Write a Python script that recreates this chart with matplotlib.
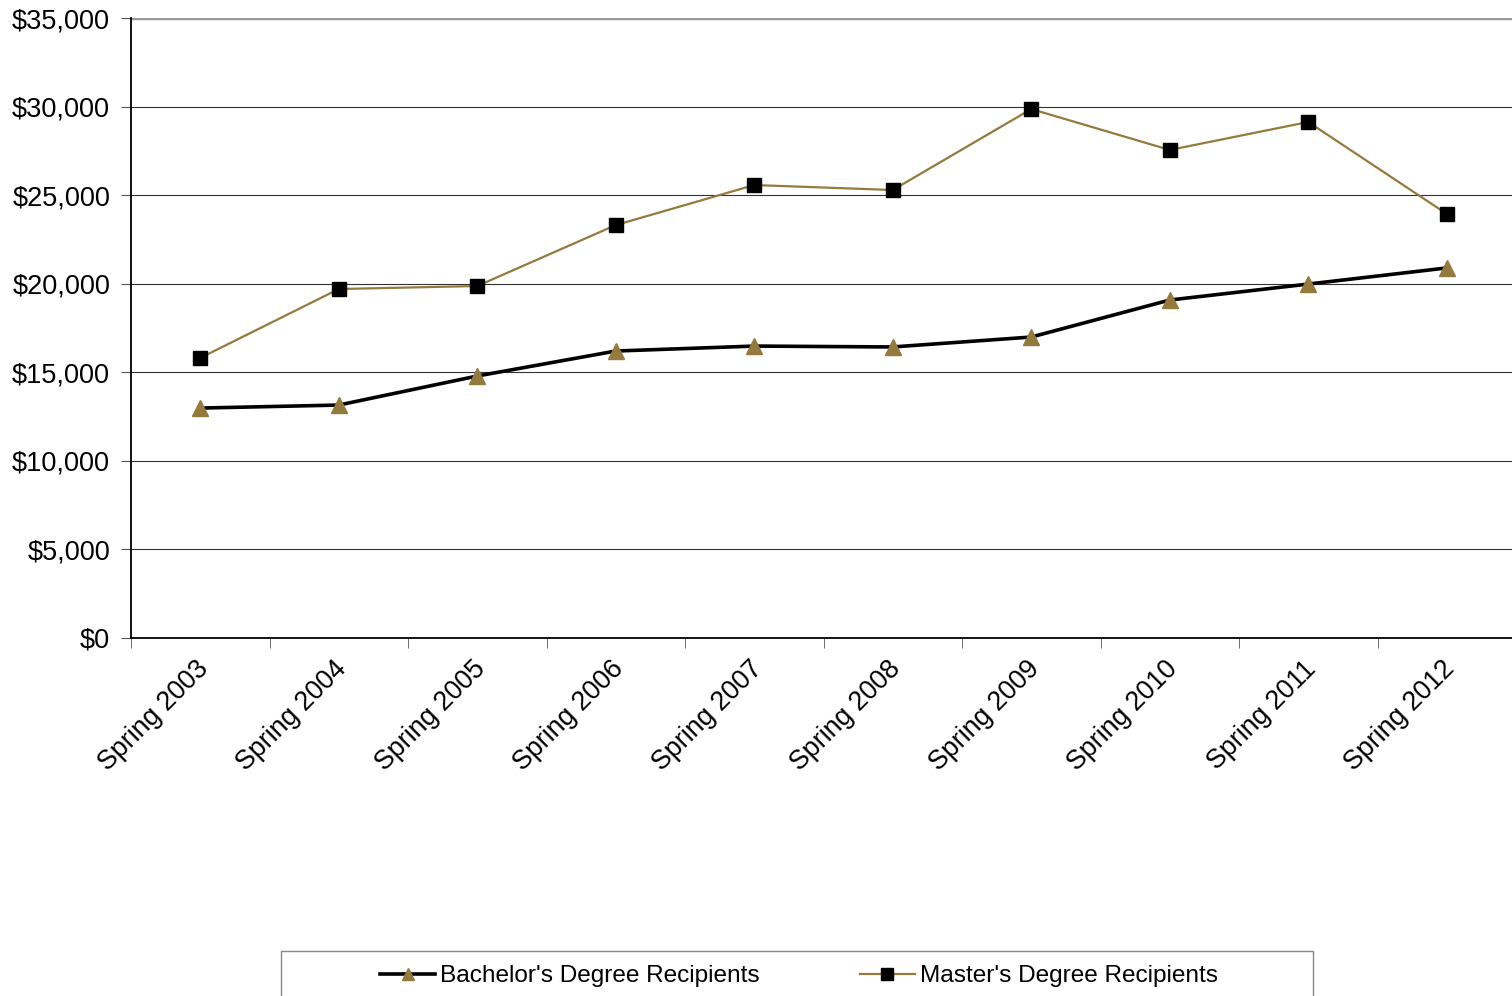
import matplotlib
matplotlib.use("Agg")
import matplotlib.pyplot as plt
import matplotlib.transforms as mtransforms
from matplotlib.patches import Rectangle
from matplotlib.ticker import FuncFormatter
import numpy as np

plt.rcParams['font.family'] = ['Liberation Sans', 'DejaVu Sans']

# data
terms = ["Spring 2003", "Spring 2004", "Spring 2005", "Spring 2006", "Spring 2007",
         "Spring 2008", "Spring 2009", "Spring 2010", "Spring 2011", "Spring 2012"]
bachelor = [12980, 13150, 14790, 16200, 16480, 16430, 16990, 19080, 19980, 20890]
master = [15810, 19700, 19870, 23310, 25570, 25290, 29860, 27550, 29130, 23940]

gold = '#947A3C'

fig = plt.figure(figsize=(15.12, 9.96), dpi=100)
ax = fig.add_axes([131 / 1512, 1 - 638 / 996, 1385 / 1512, 620 / 996])

x = np.arange(len(terms))
ax.plot(x, bachelor, color='black', lw=2.6, marker='^', ms=11,
        mfc=gold, mec=gold, label="Bachelor's Degree Recipients", zorder=3)
ax.plot(x, master, color=gold, lw=1.6, marker='s', ms=10,
        mfc='black', mec='black', label="Master's Degree Recipients", zorder=3)

ax.set_xlim(-0.5, len(terms) - 0.5)
ax.set_ylim(0, 35000)
ax.set_yticks(np.arange(0, 35001, 5000))
ax.yaxis.set_major_formatter(FuncFormatter(lambda v, p: '${:,.0f}'.format(v)))
ax.grid(axis='y', color='#333333', lw=0.8)
ax.set_axisbelow(True)

ax.set_xticks(x)
ax.set_xticklabels(terms, rotation=45, ha='right', va='top', rotation_mode='anchor')
ax.set_xticks(np.arange(-0.5, len(terms), 1), minor=True)
ax.tick_params(axis='x', which='major', length=0, pad=13, labelsize=19.3)
ax.tick_params(axis='x', which='minor', length=7, color='#555555', direction='out')
ax.tick_params(axis='y', length=7, color='#555555', labelsize=19.5, pad=8)

# nudge the rotated labels a little to the left
shift = mtransforms.ScaledTranslation(-5 / 100, 0, fig.dpi_scale_trans)
for lbl in ax.get_xticklabels():
    lbl.set_transform(lbl.get_transform() + shift)

for s in ['top', 'right']:
    ax.spines[s].set_visible(False)
ax.spines['left'].set_color('black')
ax.spines['bottom'].set_color('black')
ax.spines['left'].set_linewidth(1.3)
ax.spines['bottom'].set_linewidth(1.3)
ax.axhline(35000, color='#999999', lw=2.5, zorder=1)

# legend box (runs off the bottom edge)
fig.patches.append(Rectangle((281 / 1512, -0.05), 1032 / 1512, 0.05 + 45 / 996,
                             transform=fig.transFigure, fill=False,
                             edgecolor='#888888', lw=1.0))
fig.legend(loc='center left', bbox_to_anchor=(380 / 1512, 1 - 976 / 996), ncol=2,
           frameon=False, fontsize=17.6, handlelength=2.25, handletextpad=0.2,
           columnspacing=4.1, borderaxespad=0, borderpad=0, markerscale=0.85)

fig.savefig('out.png', dpi=100)
